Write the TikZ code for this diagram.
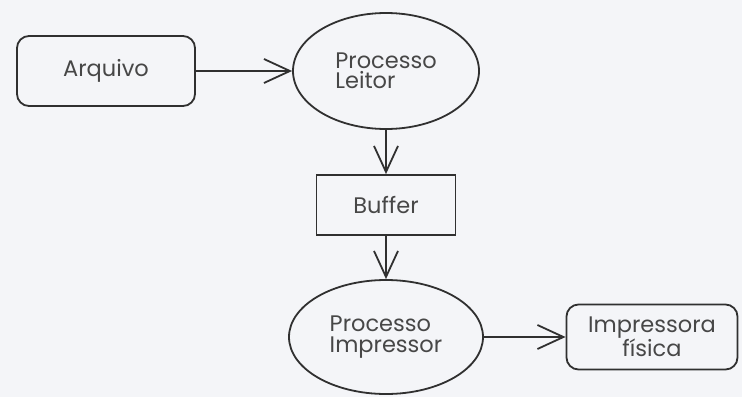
\documentclass[tikz,border=0pt]{standalone}
\usepackage{fontspec}
\setmainfont{Poppins}
\usetikzlibrary{shapes.geometric,arrows.meta}
\definecolor{paper}{HTML}{F4F5F8}
\definecolor{ink}{HTML}{303030}
\definecolor{txt}{HTML}{474747}
\begin{document}
\begin{tikzpicture}[x=1pt,y=-1pt,
  every node/.style={font=\fontsize{22.5}{20.5}\selectfont, text=txt, inner sep=0pt},
  line/.style={draw=ink, line width=1.8pt},
  roundbox/.style={line, rectangle, rounded corners=12pt, align=center},
  plainbox/.style={line, rectangle, align=center},
  proc/.style={line, ellipse, align=left},
  arr/.style={line, -{Straight Barb[length=26pt,width=24pt,line width=1.8pt]}}]
  \fill[paper] (0,0) rectangle (742,397);
  \useasboundingbox (0,0) rectangle (742,397);

  % boxes and processes
  \node[roundbox, minimum width=178pt, minimum height=70pt] (arq) at (106,71) {Arquivo};
  \node[proc, minimum width=186pt, minimum height=116pt] (leitor) at (386,71) {Processo\\Leitor};
  \node[plainbox, minimum width=139pt, minimum height=60pt] (buf) at (386,205) {Buffer};
  \node[proc, minimum width=194pt, minimum height=114pt] (impr) at (386,337) {Processo\\Impressor};
  \node[roundbox, minimum width=171pt, minimum height=65pt] (fis) at (652,337) {Impressora\\física};

  % data flow
  \draw[arr] (arq) -- (leitor);
  \draw[arr] (leitor) -- (buf);
  \draw[arr] (buf) -- (impr);
  \draw[arr] (impr) -- (fis);
\end{tikzpicture}
\end{document}
